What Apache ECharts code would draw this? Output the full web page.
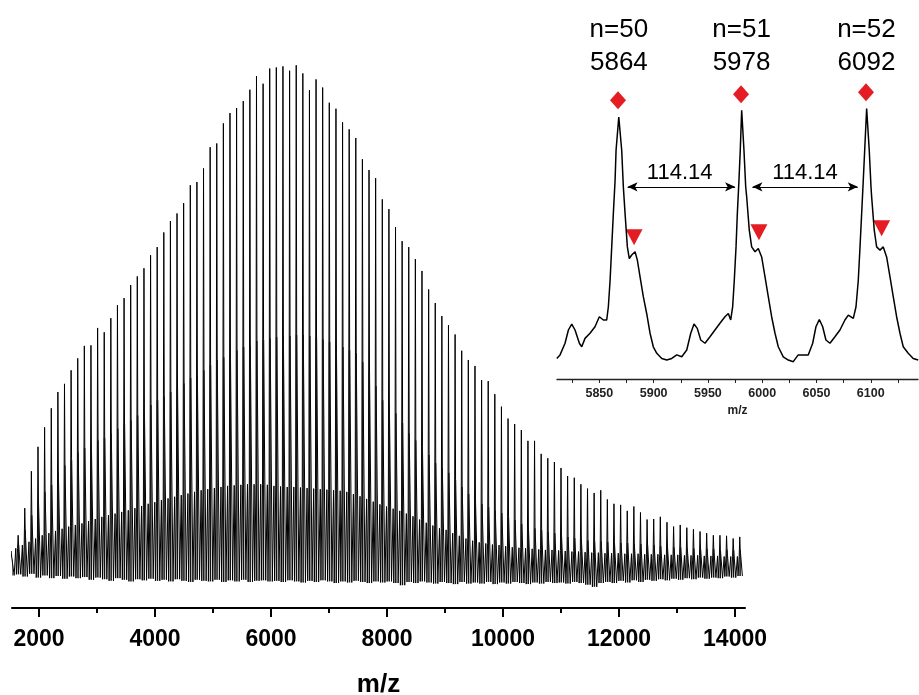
<!DOCTYPE html>
<html><head><meta charset="utf-8">
<script src="https://cdn.jsdelivr.net/npm/echarts@6/dist/echarts.min.js"></script>
<style>html,body{margin:0;padding:0;background:#fff}#c{width:919px;height:695px}</style>
</head><body><div id="c"></div>
<script>
// ---------- main spectrum: one entry per oligomer (n = 12 ... 122) ----------
const peakMz = [
  1527, 1641, 1755, 1869, 1983, 2097, 2212, 2326, 2440, 2554,
  2668, 2782, 2896, 3011, 3125, 3239, 3353, 3467, 3581, 3695,
  3810, 3924, 4038, 4152, 4266, 4380, 4494, 4609, 4723, 4837,
  4951, 5065, 5179, 5293, 5407, 5522, 5636, 5750, 5864, 5978,
  6092, 6206, 6321, 6435, 6549, 6663, 6777, 6891, 7005, 7120,
  7234, 7348, 7462, 7576, 7690, 7804, 7919, 8033, 8147, 8261,
  8375, 8489, 8603, 8718, 8832, 8946, 9060, 9174, 9288, 9402,
  9517, 9631, 9745, 9859, 9973, 10087, 10201, 10316, 10430, 10544,
  10658, 10772, 10886, 11000, 11114, 11229, 11343, 11457, 11571, 11685,
  11799, 11913, 12028, 12142, 12256, 12370, 12484, 12598, 12712, 12827,
  12941, 13055, 13169, 13283, 13397, 13511, 13626, 13740, 13854, 13968, 14082
];
const peakInt = [
  10.7, 13.4, 18.4, 25.2, 29.7, 33.3, 36.8, 39.8, 41.3, 43.8,
  46.0, 48.3, 48.4, 51.6, 50.8, 53.4, 55.8, 57.1, 59.5, 61.1,
  62.6, 65.0, 66.5, 69.2, 71.3, 72.7, 74.6, 77.9, 78.5, 81.0,
  84.9, 85.6, 89.3, 91.2, 92.1, 93.4, 95.5, 98.0, 96.6, 99.4,
  99.6, 99.8, 99.0, 100, 98.5, 95.4, 97.4, 95.9, 93.1, 92.0,
  89.5, 88.2, 86.6, 82.7, 80.7, 79.2, 75.3, 73.5, 70.2, 67.6,
  66.5, 64.3, 62.1, 58.7, 56.2, 53.8, 52.1, 50.4, 47.4, 45.7,
  44.6, 42.0, 41.8, 39.4, 37.1, 34.9, 33.9, 32.8, 30.8, 30.8,
  28.4, 27.6, 26.9, 25.8, 24.3, 24.0, 22.8, 22.0, 21.2, 21.7,
  20.0, 19.2, 19.0, 17.9, 18.7, 17.6, 16.3, 16.4, 16.8, 15.8,
  15.0, 15.3, 14.8, 14.5, 14.1, 13.8, 13.4, 13.4, 13.3, 12.8, 13.1
];
// +16 shoulder (second distribution)
const shoulderInt = [
  9.0, 11.6, 14.4, 17.1, 19.9, 21.4, 22.7, 25.0, 26.3, 27.3,
  28.7, 29.5, 30.0, 30.9, 31.3, 32.2, 33.1, 33.9, 34.6, 35.5,
  36.5, 37.4, 38.3, 39.0, 39.8, 40.7, 41.4, 42.4, 42.9, 43.8,
  44.8, 45.7, 46.2, 47.0, 47.5, 48.1, 48.4, 49.2, 49.4, 49.7,
  49.9, 50.1, 50.1, 50.3, 50.3, 50.1, 49.9, 49.5, 49.0, 48.6,
  48.1, 47.5, 47.0, 45.3, 43.3, 40.9, 38.3, 37.2, 35.9, 34.1,
  32.2, 30.9, 29.7, 28.2, 26.7, 25.8, 24.9, 23.6, 22.3, 21.0,
  19.9, 19.2, 18.6, 18.0, 17.5, 16.8, 16.2, 15.5, 14.9, 14.7,
  14.4, 14.0, 13.8, 13.4, 13.1, 12.9, 12.7, 12.5, 12.3, 12.3,
  12.2, 12.2, 12.0, 12.0, 11.8, 11.8, 11.6, 11.6, 11.4, 11.4,
  11.2, 11.2, 11.0, 11.0, 11.0, 10.9, 10.9, 10.8, 10.8, 10.7, 10.7
];
// -41 minor distribution (also the level of the low-mass foot of each peak)
const minorInt = [
  10.5, 11.0, 11.6, 12.2, 12.8, 13.4, 13.8, 14.2, 14.6, 15.0,
  15.3, 15.6, 16.0, 16.4, 16.8, 17.1, 17.4, 17.7, 18.0, 18.4,
  18.8, 19.2, 19.5, 19.9, 20.2, 20.5, 20.8, 21.1, 21.4, 21.7,
  21.9, 22.1, 22.3, 22.5, 22.6, 22.7, 22.8, 22.8, 22.8, 22.7,
  22.5, 22.4, 22.3, 22.3, 22.2, 22.1, 22.0, 21.9, 21.8, 21.7,
  21.6, 21.4, 21.0, 20.6, 20.1, 19.6, 19.1, 18.7, 18.3, 17.9,
  17.4, 16.9, 16.3, 15.7, 15.2, 14.7, 14.4, 13.8, 13.3, 12.8,
  12.4, 12.1, 11.9, 11.7, 11.6, 11.4, 11.2, 11.1, 11.0, 10.9,
  10.8, 10.7, 10.7, 10.6, 10.5, 10.4, 10.4, 10.3, 10.2, 10.2,
  10.1, 10.1, 10.1, 10.0, 10.0, 10.0, 9.9, 9.9, 9.9, 9.8,
  9.8, 9.8, 9.7, 9.7, 9.7, 9.6, 9.6, 9.6, 9.5, 9.5, 9.5
];
// noise floor between peaks
const valleyInt = [
  6.0, 6.2, 5.8, 6.3, 5.6, 6.0, 5.5, 5.9, 5.4, 5.8,
  5.5, 5.7, 5.2, 5.6, 5.3, 5.0, 5.5, 5.2, 4.9, 5.3,
  5.1, 5.4, 5.0, 5.2, 4.9, 5.3, 5.0, 4.8, 5.2, 5.0,
  4.9, 5.2, 4.8, 5.1, 4.9, 5.2, 4.8, 5.0, 5.1, 4.9,
  5.0, 4.8, 5.1, 4.9, 4.7, 5.0, 4.8, 5.1, 4.9, 4.6,
  4.9, 4.7, 5.0, 4.8, 4.6, 4.9, 4.7, 4.9, 4.6, 4.2,
  4.8, 4.6, 4.9, 4.7, 4.5, 4.8, 4.6, 4.4, 4.8, 4.5,
  4.7, 4.5, 4.8, 4.4, 4.7, 4.5, 4.8, 4.6, 4.4, 4.7,
  4.5, 4.8, 4.6, 4.7, 4.5, 4.8, 4.6, 4.3, 3.9, 4.6,
  4.8, 4.6, 5.0, 4.7, 5.1, 4.8, 5.2, 5.0, 5.3, 5.1,
  5.4, 5.2, 5.5, 5.3, 5.6, 5.4, 5.6, 5.5, 5.8, 5.6, 5.9
];
const mainLabelTicks = [2000, 4000, 6000, 8000, 10000, 12000, 14000];
const mainMinorTicks = [3000, 5000, 7000, 9000, 11000, 13000];

// ---------- inset (zoom 5811 - 6144) ----------
const insetMz = [
  5810.8, 5813.8, 5818.4, 5821.5, 5824.6, 5827.6, 5831.6, 5833.8, 5836.8, 5841.4,
  5846.0, 5850.0, 5853.7, 5856.8, 5858.3, 5859.9, 5861.4, 5862.9, 5864.5, 5865.4,
  5867.9, 5870.6, 5872.1, 5873.7, 5875.8, 5877.6, 5879.8, 5882.9, 5885.0, 5887.5,
  5890.5, 5893.6, 5896.7, 5899.7, 5902.9, 5907.5, 5912.1, 5916.7, 5921.3, 5925.9,
  5930.5, 5934.2, 5937.2, 5940.2, 5943.4, 5947.3, 5951.9, 5956.5, 5961.1, 5965.7,
  5968.8, 5971.0, 5972.8, 5974.3, 5975.9, 5977.1, 5978.6, 5979.8, 5981.1, 5983.2,
  5984.8, 5985.7, 5988.1, 5990.3, 5993.4, 5996.4, 5999.5, 6002.6, 6005.6, 6008.7,
  6011.8, 6014.8, 6019.4, 6024.0, 6028.6, 6033.2, 6037.8, 6042.4, 6046.5, 6049.5,
  6052.6, 6055.7, 6058.7, 6062.4, 6067.0, 6071.6, 6076.2, 6079.3, 6083.9, 6086.4,
  6088.5, 6090.1, 6091.6, 6093.1, 6094.4, 6096.2, 6098.6, 6100.2, 6100.8, 6103.2,
  6105.4, 6108.5, 6111.5, 6114.6, 6117.7, 6120.7, 6123.8, 6126.9, 6129.9, 6134.5,
  6139.1, 6143.7
];
const insetInt = [
  7.6, 8.9, 13.2, 18.1, 20.3, 18.1, 13.2, 11.9, 15.0, 16.9,
  19.3, 23.0, 21.8, 21.8, 26.7, 36.5, 48.8, 61.1, 73.4, 84.5,
  96.8, 84.5, 71.0, 61.1, 48.8, 44.5, 45.8, 47.0, 43.9, 37.7,
  30.4, 24.2, 16.9, 11.9, 9.5, 7.6, 7.0, 7.6, 8.9, 8.2,
  10.7, 16.9, 20.3, 18.7, 14.4, 13.2, 15.6, 18.1, 20.6, 23.0,
  24.2, 21.8, 26.7, 36.5, 48.8, 61.1, 73.4, 84.5, 99.3, 84.5,
  71.0, 67.3, 55.0, 48.8, 47.0, 48.2, 45.1, 37.7, 30.4, 23.0,
  16.9, 11.9, 8.2, 7.0, 6.4, 8.9, 8.9, 8.9, 13.2, 19.3,
  22.0, 19.3, 14.4, 13.2, 15.6, 18.1, 21.8, 23.6, 22.4, 26.7,
  36.5, 48.8, 61.1, 73.4, 84.5, 99.9, 84.5, 71.0, 67.3, 55.0,
  48.8, 47.6, 48.8, 45.1, 37.7, 30.4, 23.0, 16.9, 11.9, 9.5,
  7.6, 7.0
];
const insetTicks = [5825, 5850, 5875, 5900, 5925, 5950, 5975, 6000, 6025, 6050, 6075, 6100, 6125];
const insetLabels = [5850, 5900, 5950, 6000, 6050, 6100];

const peakNames = ['n=50', 'n=51', 'n=52'];
const peakMasses = ['5864', '5978', '6092'];
const peakNameMz = [5868, 5981, 6096];
const peakNameInt = [123.0, 123.0, 123.0];
const diamondMz = [5867.2, 5980.5, 6095.6];
const diamondInt = [103.0, 105.2, 105.9];
const triangleMz = [5882, 5997, 6110];
const triangleInt = [52.4, 54.2, 55.7];
const spacingText = ['114.14', '114.14'];
const spacingTextMz = [5924, 6039.4];
const spacingTextInt = [76.0, 76.0];
const arrowFrom = [5876, 5991];
const arrowTo = [5975, 6088];
const arrowInt = [71, 71];

// ---------- build ----------
// each oligomer: -41 minor peak, dip, low-mass foot, apex, shoulder plateau, valley
const mainData = [];
for (let i = 0; i < peakMz.length; i++) {
  const m = peakMz[i];
  mainData.push([m - 41, minorInt[i]]);
  mainData.push([m - 30, valleyInt[i]]);
  mainData.push([m - 10, minorInt[i]]);
  mainData.push([m, peakInt[i]]);
  mainData.push([m + 8, shoulderInt[i]]);
  mainData.push([m + 22, shoulderInt[i]]);
  mainData.push([m + 45, valleyInt[i]]);
}
// broad body of each peak, from the noise floor up to its +16 shoulder
const bodyData = peakMz.map((m, i) => [m, valleyInt[i], shoulderInt[i]]);
const insetData = insetMz.map((x, i) => [x, insetInt[i]]);

const FONT = '"Liberation Sans", Arial, Helvetica, sans-serif';
const RED = '#e31d23';
const plain = v => String(v);

const chart = echarts.init(document.getElementById('c'), null, {renderer: 'canvas'});
chart.setOption({
  animation: false,
  backgroundColor: '#ffffff',
  textStyle: {fontFamily: FONT},
  grid: [
    {left: 12, right: 174, top: 11, bottom: 87, containLabel: false, outerBoundsMode: 'none'},
    {left: 557, right: 1, top: 0, bottom: 316, containLabel: false, outerBoundsMode: 'none'}
  ],
  xAxis: [
    {
      gridIndex: 0, type: 'value', position: 'bottom', min: 1535, max: 14172,
      axisLine: {show: true, lineStyle: {color: '#000', width: 2}},
      axisTick: {show: true, customValues: mainLabelTicks, length: 9, lineStyle: {color: '#000', width: 2}},
      axisLabel: {show: true, customValues: mainLabelTicks, formatter: plain, margin: 20, fontSize: 23, fontWeight: 'bold', color: '#000', fontFamily: FONT},
      splitLine: {show: false},
      name: 'm/z', nameLocation: 'middle', nameGap: 64, nameMoveOverlap: false,
      nameTextStyle: {fontSize: 26, fontWeight: 'bold', color: '#000', fontFamily: FONT}
    },
    {
      gridIndex: 0, type: 'value', position: 'bottom', min: 1535, max: 14172,
      axisLine: {show: false},
      axisTick: {show: true, customValues: mainMinorTicks, length: 5, lineStyle: {color: '#000', width: 2}},
      axisLabel: {show: false},
      splitLine: {show: false}
    },
    {
      gridIndex: 1, type: 'value', position: 'bottom', min: 5811, max: 6143.5,
      axisLine: {show: true, lineStyle: {color: '#222', width: 1.3}},
      axisTick: {show: true, customValues: insetTicks, length: 4, lineStyle: {color: '#222', width: 1}},
      axisLabel: {show: true, customValues: insetLabels, formatter: plain, margin: 8, fontSize: 12.5, fontWeight: 'bold', color: '#222', fontFamily: FONT},
      splitLine: {show: false},
      name: 'm/z', nameLocation: 'middle', nameGap: 26, nameMoveOverlap: false,
      nameTextStyle: {fontSize: 12, fontWeight: 'bold', color: '#222', fontFamily: FONT}
    }
  ],
  yAxis: [
    {gridIndex: 0, type: 'value', min: 0, max: 110, show: false},
    {gridIndex: 1, type: 'value', min: 0, max: 140, show: false}
  ],
  series: [
    {
      type: 'line', xAxisIndex: 0, yAxisIndex: 0, data: mainData,
      showSymbol: false, symbol: 'none', silent: true,
      lineStyle: {color: '#000', width: 1.0}
    },
    {
      type: 'custom', xAxisIndex: 0, yAxisIndex: 0, data: bodyData, clip: true, silent: true, z: 5,
      dimensions: ['mz', 'floor', 'shoulder'],
      encode: {x: 'mz', y: ['floor', 'shoulder']},
      renderItem: (params, api) => {
        const m = api.value('mz');
        const p1 = api.coord([m - 8, api.value('shoulder')]);
        const p2 = api.coord([m + 18, api.value('floor')]);
        return {type: 'rect', shape: {x: p1[0], y: p1[1], width: p2[0] - p1[0], height: p2[1] - p1[1]},
                style: {fill: '#111'}};
      }
    },
    {
      type: 'line', xAxisIndex: 2, yAxisIndex: 1, data: insetData,
      showSymbol: false, symbol: 'none', silent: true,
      lineStyle: {color: '#000', width: 1.5},
      markLine: {
        silent: true, symbol: ['arrow', 'arrow'], symbolSize: [7, 10],
        lineStyle: {color: '#000', width: 1.2, type: 'solid'},
        label: {show: false},
        data: arrowFrom.map((f, i) => [{coord: [f, arrowInt[i]]}, {coord: [arrowTo[i], arrowInt[i]]}])
      }
    },
    {
      type: 'scatter', xAxisIndex: 2, yAxisIndex: 1, silent: true,
      symbol: 'diamond', symbolSize: [16, 18],
      itemStyle: {color: RED, opacity: 1},
      data: diamondMz.map((x, i) => [x, diamondInt[i]])
    },
    {
      type: 'scatter', xAxisIndex: 2, yAxisIndex: 1, silent: true,
      symbol: 'triangle', symbolRotate: 180, symbolSize: [17, 16],
      itemStyle: {color: RED, opacity: 1},
      data: triangleMz.map((x, i) => [x, triangleInt[i]])
    },
    {
      type: 'scatter', xAxisIndex: 2, yAxisIndex: 1, silent: true,
      symbolSize: 0, itemStyle: {opacity: 1},
      label: {
        show: true, position: 'inside', fontSize: 26, lineHeight: 33, color: '#000', opacity: 1, fontFamily: FONT,
        formatter: p => peakNames[p.dataIndex] + '\n' + peakMasses[p.dataIndex]
      },
      data: peakNameMz.map((x, i) => [x, peakNameInt[i]])
    },
    {
      type: 'scatter', xAxisIndex: 2, yAxisIndex: 1, silent: true,
      symbolSize: 0, itemStyle: {opacity: 1},
      label: {
        show: true, position: 'inside', fontSize: 22, color: '#000', opacity: 1, fontFamily: FONT,
        formatter: p => spacingText[p.dataIndex]
      },
      data: spacingTextMz.map((x, i) => [x, spacingTextInt[i]])
    }
  ]
});
</script>
</body></html>
